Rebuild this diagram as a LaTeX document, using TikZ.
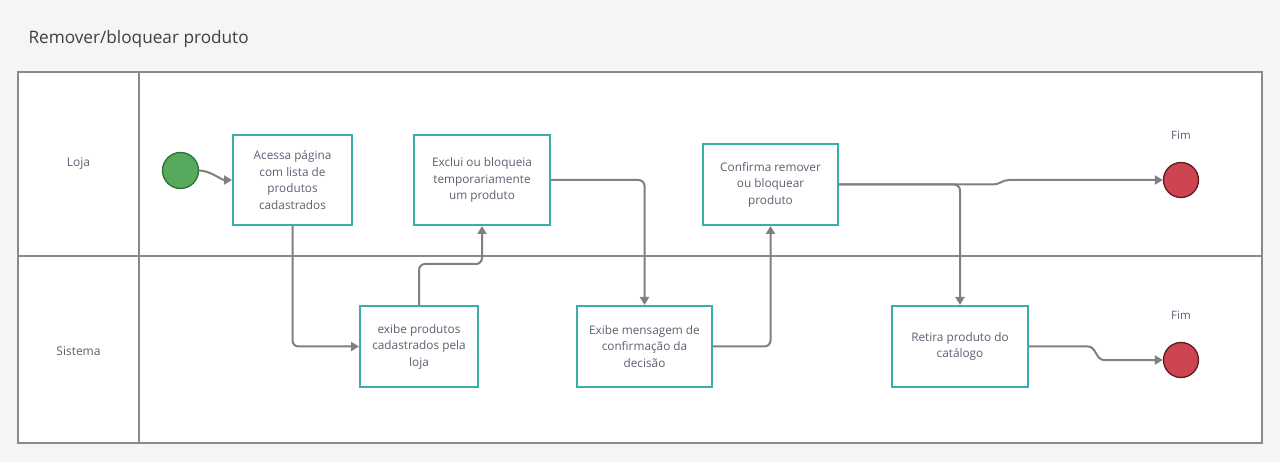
\documentclass[tikz,border=0pt]{standalone}
\usepackage{fontspec}
\setmainfont{Open Sans}
\usetikzlibrary{arrows.meta}
\definecolor{bgc}{HTML}{F5F5F5}
\definecolor{lanec}{HTML}{8A8A8A}
\definecolor{boxc}{HTML}{38AFAA}
\definecolor{txtc}{HTML}{5A6170}
\definecolor{arrc}{HTML}{808080}
\definecolor{startf}{HTML}{55AA5E}
\definecolor{startd}{HTML}{2F6E35}
\definecolor{endf}{HTML}{CC4550}
\definecolor{endd}{HTML}{5E1A1F}
\begin{document}
\begin{tikzpicture}[x=1pt,y=-1pt,
  stepbox/.style={draw=boxc, line width=2pt, fill=white, align=center, text=txtc,
    font=\fontsize{11.8}{16.5}\selectfont, inner sep=0pt, minimum width=#1},
  stepbox/.default=118pt,
  flow/.style={draw=arrc, line width=2pt, rounded corners=6pt, -{Triangle[length=8pt,width=9pt]}},
  lanelabel/.style={text=txtc, font=\fontsize{12}{14}\selectfont},
  startev/.style={circle, fill=startf, draw=startd, line width=1.3pt, minimum size=36pt, inner sep=0pt},
  endev/.style={circle, fill=endf, draw=endd, line width=1.3pt, minimum size=35pt, inner sep=0pt}]
\useasboundingbox (0,0) rectangle (1280,462);
\fill[bgc] (0,0) rectangle (1280,462);
\node[anchor=west, text=black!75, font=\fontsize{17.2}{20}\selectfont] (title) at (25,39) {Remover/bloquear produto};
% lanes
\draw[lanec, line width=1.6pt, fill=white] (18,72) rectangle (1262,443);
\draw[lanec, line width=1.6pt] (18,256) -- (1262,256);
\draw[lanec, line width=1.6pt] (139,72) -- (139,443);
\node[lanelabel] (l1) at (78.5,164) {Loja};
\node[lanelabel] (l2) at (78.5,351) {Sistema};
% events
\node[startev] (S) at (180.5,170.5) {};
\node[endev] (E1) at (1181,180) {};
\node[endev] (E2) at (1181,360) {};
\node[lanelabel, font=\fontsize{11.5}{14}\selectfont] (f1) at (1181,135) {Fim};
\node[lanelabel, font=\fontsize{11.5}{14}\selectfont] (f2) at (1181,315) {Fim};
% tasks
\node[stepbox=119pt, minimum height=90pt] (A) at (292.5,180) {Acessa página\\com lista de\\produtos\\cadastrados};
\node[stepbox=136pt, minimum height=90pt] (B) at (482,180) {Exclui ou bloqueia\\temporariamente\\um produto};
\node[stepbox=135pt, minimum height=81pt] (C) at (770.5,184.5) {Confirma remover\\ou bloquear\\produto};
\node[stepbox=118pt, minimum height=81pt] (D) at (419,346.5) {exibe produtos\\cadastrados pela\\loja};
\node[stepbox=135pt, minimum height=81pt] (E) at (644.5,346.5) {Exibe mensagem de\\confirmação da\\decisão};
\node[stepbox=136pt, minimum height=81pt] (F) at (960,346.5) {Retira produto do\\catálogo};
% connectors
\draw[flow] (S.east) to[out=0,in=180,looseness=0.8] (A.west);
\draw[flow] (A.south) |- (D.west);
\draw[flow] (D.north) -- ++(0,-41) -| (B.south);
\draw[flow] (B.east) -| (E.north);
\draw[flow] (E.east) -| (C.south);
\draw[flow, rounded corners=0pt] (C.east) -- ++(154,0) to[out=0,in=180] ++(16,-4.5) -- (E1.west);
\draw[flow] (C.east) -| (F.north);
\draw[flow, rounded corners=0pt] (F.east) -- ++(59,0) to[out=0,in=180] ++(16,13.5) -- (E2.west);
\end{tikzpicture}
\end{document}
